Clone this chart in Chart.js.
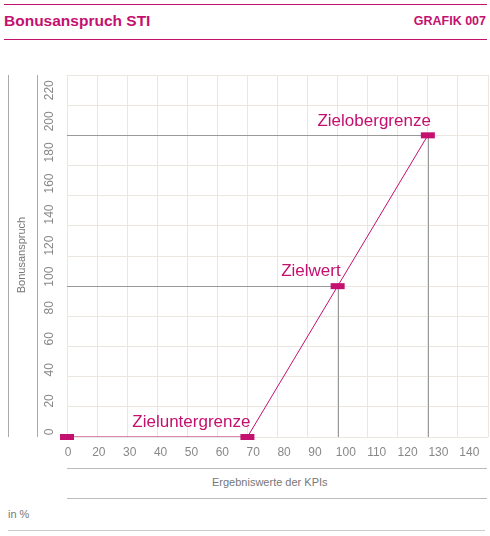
<!DOCTYPE html>
<html><head><meta charset="utf-8">
<script src="https://cdn.jsdelivr.net/npm/chart.js@4"></script>
<style>
body{margin:0;width:490px;height:536px;position:relative;font-family:"Liberation Sans",Arial,sans-serif;background:#fff;overflow:hidden}
.t{position:absolute;color:#c4106e;font-weight:bold}
.l{position:absolute;height:1px}
#c{position:absolute;left:0;top:0}
</style></head><body>
<div class="l" style="left:4px;top:4px;width:483px;background:#c4106e"></div>
<div class="t" style="left:4px;top:12px;font-size:15.5px">Bonusanspruch STI</div>
<div class="t" style="right:4px;top:14px;font-size:12.5px">GRAFIK 007</div>
<div class="l" style="left:4px;top:39px;width:483px;background:#c4106e"></div>
<div class="l" style="left:67px;top:468px;width:420px;background:#bbb"></div>
<div style="position:absolute;left:212px;top:476px;font-size:11px;color:#777">Ergebniswerte der KPIs</div>
<div class="l" style="left:67px;top:498px;width:420px;background:#bbb"></div>
<div style="position:absolute;left:8px;top:508px;font-size:11px;color:#777">in %</div>
<div class="l" style="left:8px;top:530px;width:477px;background:#ccc"></div>
<canvas id="c" width="490" height="536"></canvas>
<script>
const xLabels=['0','20','30','40','50','60','70','80','90','100','110','120','130','140'];
const yLabels=['0','20','40','60','80','100','120','140','160','180','200','220'];
const kpi=['0','70','100','130'];
const bonus=[0,0,100,200];
const names=['','Zieluntergrenze','Zielwert','Zielobergrenze'];
const M='#c4106e';
const pts=kpi.map((k,i)=>({x:xLabels.indexOf(k),y:bonus[i]}));
const plug={id:'p',
beforeDatasetsDraw(ch){const c=ch.ctx,x=ch.scales.x,y=ch.scales.y,a=ch.chartArea;
 c.save();c.strokeStyle='#aaa';c.lineWidth=1;
 c.beginPath();c.moveTo(8.5,a.top);c.lineTo(8.5,a.bottom);c.moveTo(37.5,a.top);c.lineTo(37.5,a.bottom);c.stroke();
 c.strokeStyle='#999';
 pts.slice(2).forEach(p=>{const px=Math.round(x.getPixelForValue(p.x))+.5,py=Math.round(y.getPixelForValue(p.y))+.5;
  c.beginPath();c.moveTo(a.left,py);c.lineTo(px,py);c.moveTo(px,py);c.lineTo(px,a.bottom);c.stroke();});
 c.fillStyle='#888';c.font='12px "Liberation Sans",Arial';c.textAlign='center';c.textBaseline='middle';
 yLabels.forEach((l,i)=>{const py=y.getPixelForValue(+l)-5-i*0.9;c.save();c.translate(50,py);c.rotate(-Math.PI/2);c.fillText(l,0,0);c.restore();});
 xLabels.forEach((l,i)=>{c.fillText(l,x.getPixelForValue(i)+1+i*0.8,a.bottom+16);});
 c.save();c.translate(22,255);c.rotate(-Math.PI/2);c.font='11px "Liberation Sans",Arial';c.fillStyle='#777';c.fillText('Bonusanspruch',0,0);c.restore();
 c.restore();},
afterDatasetsDraw(ch){const c=ch.ctx,x=ch.scales.x,y=ch.scales.y;c.save();c.fillStyle=M;
 c.font='17px "Liberation Sans",Arial';c.textAlign='right';c.textBaseline='bottom';
 pts.forEach((p,i)=>{const px=x.getPixelForValue(p.x),py=y.getPixelForValue(p.y);
  c.fillRect(px-7,py-3,14,6);
  if(names[i])c.fillText(names[i],px+3,py-6);});
 c.restore();}};
new Chart(document.getElementById('c'),{type:'scatter',
data:{datasets:[{data:pts,showLine:true,borderColor:M,borderWidth:1,pointRadius:0,tension:0}]},
options:{responsive:false,animation:false,events:[],
 layout:{padding:{top:75,right:2,left:0,bottom:0}},
 plugins:{legend:{display:false},tooltip:{enabled:false}},
 scales:{
  x:{type:'linear',min:0,max:14,afterFit(s){s.height=99;},
   ticks:{stepSize:1,display:false},
   grid:{color:'#ebe6e0',drawTicks:false},border:{display:false}},
  y:{min:0,max:240,afterFit(s){s.width=67;},
   ticks:{stepSize:20,display:false},
   grid:{color:'#ebe6e0',drawTicks:false},border:{display:false}}}},
plugins:[plug]});
</script></body></html>
